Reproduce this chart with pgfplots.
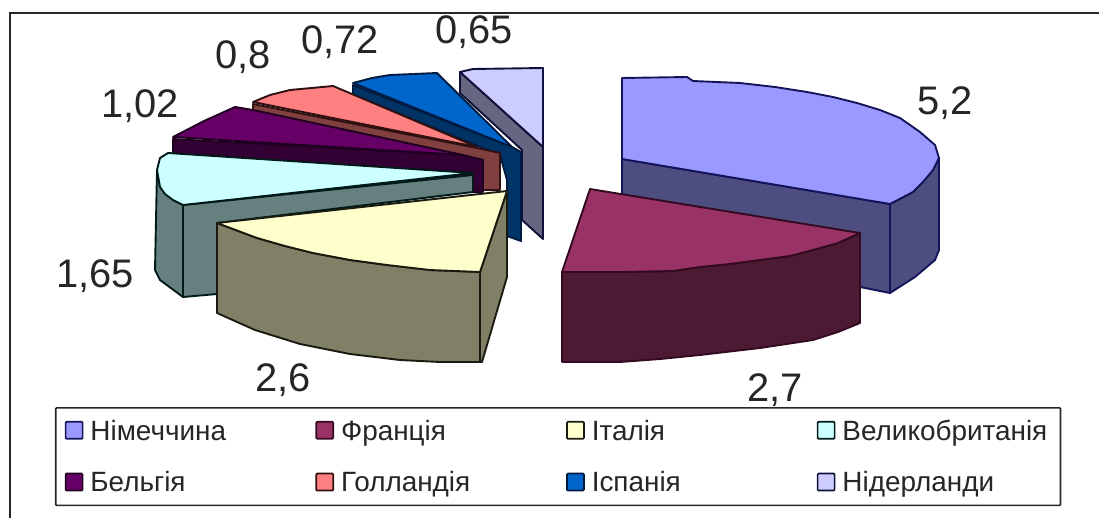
\documentclass[border=0pt]{standalone}
\usepackage{fontspec}
\setmainfont{Liberation Sans}
\usepackage{pgfplots}
\pgfplotsset{compat=1.18}

% Excel palette: top of the slice / side of the slice / outline
\definecolor{deT}{HTML}{9999FF}\definecolor{deS}{HTML}{4D4D80}\definecolor{deE}{HTML}{14145A}
\definecolor{frT}{HTML}{993366}\definecolor{frS}{HTML}{4D1A33}\definecolor{frE}{HTML}{330A20}
\definecolor{itT}{HTML}{FFFFCC}\definecolor{itS}{HTML}{808066}\definecolor{itE}{HTML}{1A1A10}
\definecolor{ukT}{HTML}{CCFFFF}\definecolor{ukS}{HTML}{668080}\definecolor{ukE}{HTML}{001A1A}
\definecolor{beT}{HTML}{660066}\definecolor{beS}{HTML}{330033}\definecolor{beE}{HTML}{200020}
\definecolor{hoT}{HTML}{FF8080}\definecolor{hoS}{HTML}{804040}\definecolor{hoE}{HTML}{301010}
\definecolor{esT}{HTML}{0066CC}\definecolor{esS}{HTML}{003366}\definecolor{esE}{HTML}{001A40}
\definecolor{nlT}{HTML}{CCCCFF}\definecolor{nlS}{HTML}{666680}\definecolor{nlE}{HTML}{10103A}
\definecolor{ink}{HTML}{262626}

\pgfplotsset{
  slice/.style n args={2}{forget plot, fill=#1, draw=#2, line width=1.9pt, line join=round},
  swatch/.style n args={2}{fill=#1, draw=#2, line width=1.7pt,
    legend image code/.code={\draw[##1] (0bp,-8bp) rectangle (17bp,9bp);}},
}
\newcommand{\val}[3]{\node[text=ink, font=\fontsize{40}{44}\selectfont, inner sep=0pt] at (axis cs:#1,#2) {#3};}
\newcommand{\lab}[2]{\makebox[#1bp][l]{\kern5bp #2}}
% second row: extra depth for the wider margin under it
\newcommand{\labb}[2]{\makebox[#1bp][l]{\rule[-16bp]{0pt}{16bp}\kern5bp #2}}

\begin{document}
\begin{tikzpicture}
\useasboundingbox (0,0) rectangle (1099bp,518bp);
\begin{axis}[
    width=1099bp, height=518bp, scale only axis,
    xmin=0, xmax=1099, ymin=0, ymax=518, y dir=reverse,
    hide axis, clip=false,
    legend columns=4,
    legend cell align=left,
    legend style={
      at={(0.0500,0.2143)}, anchor=north west,
      draw=ink, line width=1.6pt, rounded corners=1pt,
      font=\fontsize{28}{30}\selectfont, text=ink,
      inner xsep=9bp, inner ysep=10bp,
      row sep=26bp,
    },
  ]
  % legend first, slices are forget plot so they can be stacked back to front
  \addlegendimage{swatch={deT}{deE}}\addlegendentry{\lab{228}{Німеччина}}
  \addlegendimage{swatch={frT}{frE}}\addlegendentry{\lab{228}{Франція}}
  \addlegendimage{swatch={itT}{itE}}\addlegendentry{\lab{228}{Італія}}
  \addlegendimage{swatch={ukT}{ukE}}\addlegendentry{\lab{212}{Великобританія}}
  \addlegendimage{swatch={beT}{beE}}\addlegendentry{\labb{228}{Бельгія}}
  \addlegendimage{swatch={hoT}{hoE}}\addlegendentry{\labb{228}{Голландія}}
  \addlegendimage{swatch={esT}{esE}}\addlegendentry{\labb{228}{Іспанія}}
  \addlegendimage{swatch={nlT}{nlE}}\addlegendentry{\labb{212}{Нідерланди}}

  % outer frame
  \addplot[forget plot, draw=ink, line width=1.8pt] coordinates {(10,518) (10,13) (1099,13)};

  % Nederland
  \addplot[slice={nlS}{nlE}] coordinates {(460,72) (543,147) (543,239) (522,220) (522,150) (460,93)} --cycle;
  \addplot[slice={nlT}{nlE}] coordinates {(460,72) (473,69) (543,68) (543,147)} --cycle;
  % Spain
  \addplot[slice={esS}{esE}] coordinates {(353,85) (512,147) (521,152) (521,241) (507,236) (507,180) (500,155) (353,95)} --cycle;
  \addplot[slice={esT}{esE}] coordinates {(353,83) (372,78) (390,75) (437,73) (512,147)} --cycle;
  % Holland
  \addplot[slice={hoS}{hoE}] coordinates {(253,104) (477,148) (500,153) (500,190) (483,190) (483,160) (253,112)} --cycle;
  \addplot[slice={hoT}{hoE}] coordinates {(253,102) (270,95) (290,90) (333,86) (477,147)} --cycle;
  % Belgium
  \addplot[slice={beS}{beE}] coordinates {(173,139) (463,155) (483,160) (483,192) (473,192) (173,153)} --cycle;
  \addplot[slice={beT}{beE}] coordinates {(173,137) (204,121) (235,107) (253,110) (463,155)} --cycle;
  % UK
  \addplot[slice={ukS}{ukE}] coordinates {(183,205) (473,175) (473,192) (217,223) (217,294) (183,297)} --cycle;
  \addplot[slice={ukS}{ukE}] coordinates {(157,170) (160,187) (173,200) (183,205) (183,297) (160,280) (155,270)} --cycle;
  \addplot[slice={ukT}{ukE}] coordinates {(168,153) (473,173) (183,205) (173,200) (165,194) (160,187) (157,170) (160,158)} --cycle;
  % Germany
  \addplot[slice={deS}{deE}] coordinates {(622,159) (890,204) (890,293) (860,287) (622,249)} --cycle;
  \addplot[slice={deS}{deE}] coordinates {(890,204) (913,192) (933,170) (939,158) (939,250) (935,260) (915,277) (890,293)} --cycle;
  \addplot[slice={deT}{deE}] coordinates {(622,78) (687,77) (693,81) (740,83) (775,87) (807,92) (833,97) (857,103) (880,110) (900,118) (920,132) (935,145) (939,158) (933,170) (923,182) (913,192) (890,204) (622,159)} --cycle;
  % France
  \addplot[slice={frS}{frE}] coordinates {(562,272) (620,272) (673,271) (700,267) (730,264) (760,260) (790,256) (813,250) (838,243) (860,233) (860,323) (838,332) (813,340) (760,348) (700,355) (660,359) (620,362) (562,362)} --cycle;
  \addplot[slice={frT}{frE}] coordinates {(590,189) (860,233) (838,243) (813,250) (790,256) (760,260) (730,264) (700,267) (673,271) (620,272) (562,272)} --cycle;
  % Italy
  \addplot[slice={itS}{itE}] coordinates {(217,223) (257,238) (285,246) (313,253) (350,260) (387,265) (430,270) (480,272) (480,362) (440,362) (400,360) (350,354) (300,344) (255,330) (217,313)} --cycle;
  \addplot[slice={itS}{itE}] coordinates {(480,272) (507,191) (507,277) (482,362) (480,362)} --cycle;
  \addplot[slice={itT}{itE}] coordinates {(217,223) (507,191) (480,272) (430,270) (387,265) (350,260) (313,253) (285,246) (257,238)} --cycle;

  % value labels
  \val{945}{103}{5,2}
  \val{775}{390}{2,7}
  \val{283}{380}{2,6}
  \val{95}{276}{1,65}
  \val{140}{106}{1,02}
  \val{243}{57}{0,8}
  \val{340}{42}{0,72}
  \val{474}{32}{0,65}
\end{axis}
\end{tikzpicture}
\end{document}
